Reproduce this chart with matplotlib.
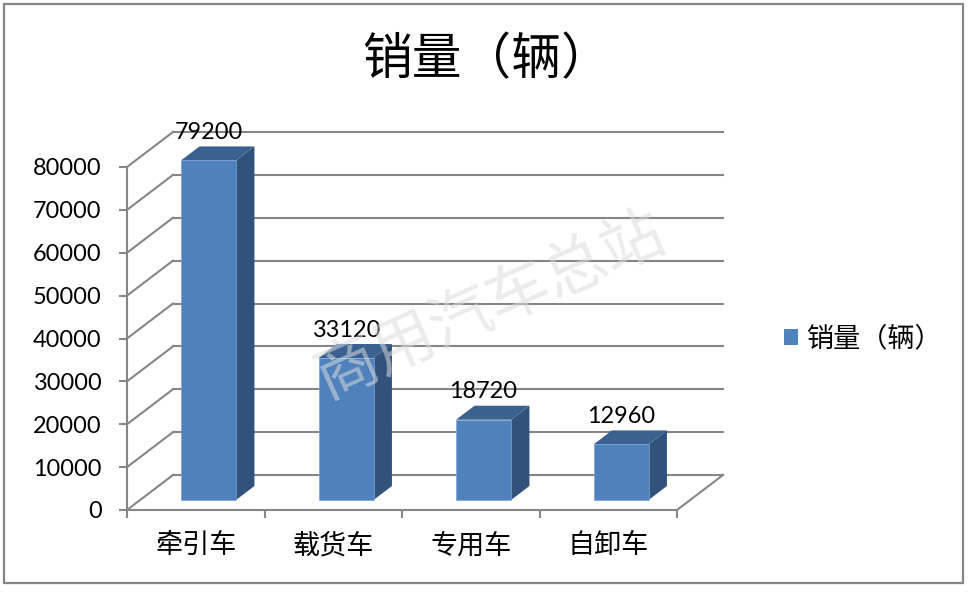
import matplotlib
matplotlib.use('Agg')
import matplotlib.pyplot as plt
from matplotlib.patches import Rectangle, Polygon

plt.rcParams['font.family'] = ['Noto Sans CJK SC', 'DejaVu Sans']

categories = ['牵引车', '载货车', '专用车', '自卸车']
sales = [79200, 33120, 18720, 12960]
y_ticks = [0, 10000, 20000, 30000, 40000, 50000, 60000, 70000, 80000]
title = '销量（辆）'
watermark = '商用汽车总站'

W, H = 969, 595
GREY = '#868686'
FRONT, SIDE, TOP = '#4f81bd', '#31527a', '#3a6190'

fig = plt.figure(figsize=(W / 100, H / 100), dpi=100)
ax = fig.add_axes([127 / W, 1 - 510 / H, 550 / W, 343 / H])
ax.set_xlim(0, 4)
ax.set_ylim(0, 80000)

# depth of the fake 3d floor, in data units
dx = 46 / 137.5
dy = 35 / 343 * 80000
d_front, d_back = 10 / 35, 24 / 35

for v in y_ticks:
    ax.plot([0, dx], [v, v + dy], color=GREY, lw=1.5, clip_on=False, zorder=1)
    ax.plot([dx, 4 + dx], [v + dy, v + dy], color=GREY, lw=1.5, clip_on=False, zorder=1)
ax.plot([4, 4 + dx], [0, dy], color=GREY, lw=1.5, clip_on=False, zorder=1)

bar_w = 0.4
for i, v in enumerate(sales):
    x0 = i + 0.393
    x1 = x0 + bar_w
    base = d_front * dy
    ox = (d_back - d_front) * dx
    oy = (d_back - d_front) * dy
    ax.bar(x0, v, width=bar_w, bottom=base, align='edge', color=FRONT,
           edgecolor='#7fa3d0', linewidth=0.5, clip_on=False, zorder=3)
    ax.add_patch(Polygon([(x1, base), (x1 + ox, base + oy), (x1 + ox, base + v + oy), (x1, base + v)],
                         facecolor=SIDE, edgecolor='none', clip_on=False, zorder=2))
    ax.add_patch(Polygon([(x0, base + v), (x0 + ox, base + v + oy), (x1 + ox, base + v + oy), (x1, base + v)],
                         facecolor=TOP, edgecolor='none', clip_on=False, zorder=2))
    ax.annotate(str(v), (x0 + bar_w / 2, base + v), xytext=(0, 20), textcoords='offset points',
                ha='center', va='center', fontsize=16.9, family=['Lato', 'DejaVu Sans'],
                color='black', zorder=5, annotation_clip=False)

for s in ['top', 'right']:
    ax.spines[s].set_visible(False)
for s in ['left', 'bottom']:
    ax.spines[s].set_color(GREY)
    ax.spines[s].set_linewidth(1.5)

ax.set_yticks(y_ticks)
ax.set_yticklabels([str(v) for v in y_ticks], family=['Lato', 'DejaVu Sans'], fontsize=16.9)
ax.tick_params(axis='y', length=5.8, width=1.5, color=GREY, pad=12.5)
ax.set_xticks(range(5))
ax.set_xticklabels([])
ax.tick_params(axis='x', which='major', length=5.8, width=1.5, color=GREY)
ax.set_xticks([i + 0.5 for i in range(4)], minor=True)
ax.set_xticklabels(categories, minor=True, fontsize=19.5, weight='light')
ax.tick_params(axis='x', which='minor', length=0, pad=16)

fig.text(487 / W, 1 - 60 / H, title, ha='center', va='center', fontsize=35.8, color='black')

ax.legend([Rectangle((0, 0), 1, 1, facecolor=FRONT)], [title], loc='center left',
          bbox_to_anchor=(760 / W, 1 - 339 / H), bbox_transform=fig.transFigure,
          frameon=False, fontsize=19.5, handlelength=0.52, handleheight=0.52, handletextpad=0.3)

fig.text(490 / W, 1 - 305 / H, watermark, ha='center', va='center', rotation=24,
         fontsize=45, color='#dcdcdc', alpha=0.55, zorder=10)

fig.add_artist(Rectangle((3.5 / W, 1 - 583 / H), 959 / W, 579.5 / H, transform=fig.transFigure,
                         fill=False, edgecolor=GREY, linewidth=1.6))

fig.savefig('out.png', dpi=100)
